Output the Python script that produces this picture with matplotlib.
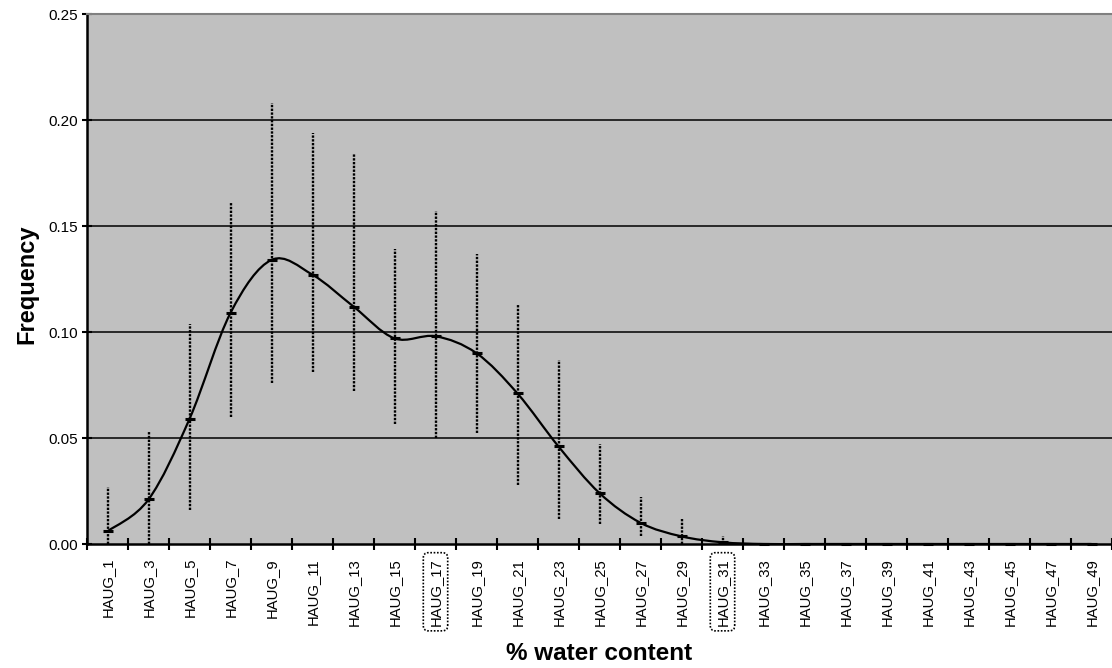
import matplotlib
matplotlib.use('Agg')
import matplotlib.pyplot as plt
from matplotlib.path import Path
from matplotlib.patches import PathPatch
import numpy as np

plt.rcParams['font.family'] = ['Liberation Sans', 'DejaVu Sans']

# sample classes and measured frequencies
samples = ['HAUG_%d' % i for i in range(1, 50, 2)]
freq = [0.006, 0.021, 0.059, 0.109, 0.134, 0.127, 0.112, 0.097, 0.098, 0.090,
        0.071, 0.046, 0.024, 0.010, 0.0036, 0.0008, 0.0, 0.0, 0.0, 0.0,
        0.0, 0.0, 0.0, 0.0, 0.0]
upper = [0.027, 0.053, 0.104, 0.1615, 0.208, 0.194, 0.184, 0.139, 0.157, 0.137,
         0.113, 0.087, 0.047, 0.022, 0.012, 0.004, 0.0, 0.0, 0.0, 0.0,
         0.0, 0.0, 0.0, 0.0, 0.0]
lower = [0.0, 0.0, 0.016, 0.060, 0.076, 0.081, 0.072, 0.0565, 0.050, 0.0525,
         0.028, 0.012, 0.0094, 0.0036, 0.0, 0.0, 0.0, 0.0, 0.0, 0.0,
         0.0, 0.0, 0.0, 0.0, 0.0]
yticks = [0.0, 0.05, 0.10, 0.15, 0.20, 0.25]
boxed = ['HAUG_17', 'HAUG_31']

x = np.arange(len(samples))
y = np.array(freq)

fig = plt.figure(figsize=(11.12, 6.68), dpi=100)
ax = fig.add_axes([87/1112, 124/668, 1025/1112, 530/668])
ax.set_facecolor('#c0c0c0')

for v in yticks[1:-1]:
    ax.axhline(v, color='black', lw=1.1, zorder=1)

# smoothed line (bezier segments through the points)
px = np.concatenate([[x[0]], x, [x[-1]]])
py = np.concatenate([[y[0]], y, [y[-1]]])
verts = [(x[0], y[0])]
codes = [Path.MOVETO]
for i in range(1, len(px) - 2):
    c1 = (px[i] + (px[i+1] - px[i-1]) / 6, py[i] + (py[i+1] - py[i-1]) / 6)
    c2 = (px[i+1] - (px[i+2] - px[i]) / 6, py[i+1] - (py[i+2] - py[i]) / 6)
    verts += [c1, c2, (px[i+1], py[i+1])]
    codes += [Path.CURVE4] * 3
ax.add_patch(PathPatch(Path(verts, codes), fc='none', ec='black', lw=1.6, zorder=3))
ax.plot(x, y, ls='none', marker='_', ms=7, mew=2.2, color='black', zorder=6,
        clip_on=False)

eb = ax.errorbar(x, y, yerr=[y - np.array(lower), np.array(upper) - y],
                 fmt='none', ecolor='black', elinewidth=1.7, capsize=0, zorder=2)
eb[2][0].set_linestyle((0, (1, 0.6)))

ax.set_xlim(-0.5, len(samples) - 0.5)
ax.set_ylim(0, 0.25)
ax.set_yticks(yticks)
ax.set_yticklabels(['%.2f' % v for v in yticks], fontsize=11)
ax.tick_params(axis='y', direction='inout', length=7.5, width=1.5, pad=3)

ax.set_xticks(np.arange(len(samples) + 1) - 0.5)
ax.set_xticklabels([])
ax.set_xticks(x, minor=True)
ax.set_xticklabels(samples, minor=True, rotation=90, fontsize=10.7, va='top')
ax.tick_params(axis='x', which='major', direction='inout', length=8, width=1.5)
ax.tick_params(axis='x', which='minor', length=0, pad=10)

for lab in ax.get_xticklabels(minor=True):
    if lab.get_text() in boxed:
        lab.set_bbox(dict(boxstyle='round,pad=0.35', fc='none', ec='black',
                          ls=(0, (1, 1)), lw=1.2))

for s in ['left', 'bottom']:
    ax.spines[s].set_linewidth(1.8)
ax.spines['top'].set_color('#808080')
ax.spines['top'].set_linewidth(1.5)
ax.spines['right'].set_visible(False)

ax.set_xlabel('% water content', fontsize=17.5, fontweight='bold', va='center')
ax.xaxis.set_label_coords(0.5, -0.2057)
ax.set_ylabel('Frequency', fontsize=17, fontweight='bold', va='center')
ax.yaxis.set_label_coords(-0.0585, 0.49)

fig.savefig('out.png', dpi=100)
